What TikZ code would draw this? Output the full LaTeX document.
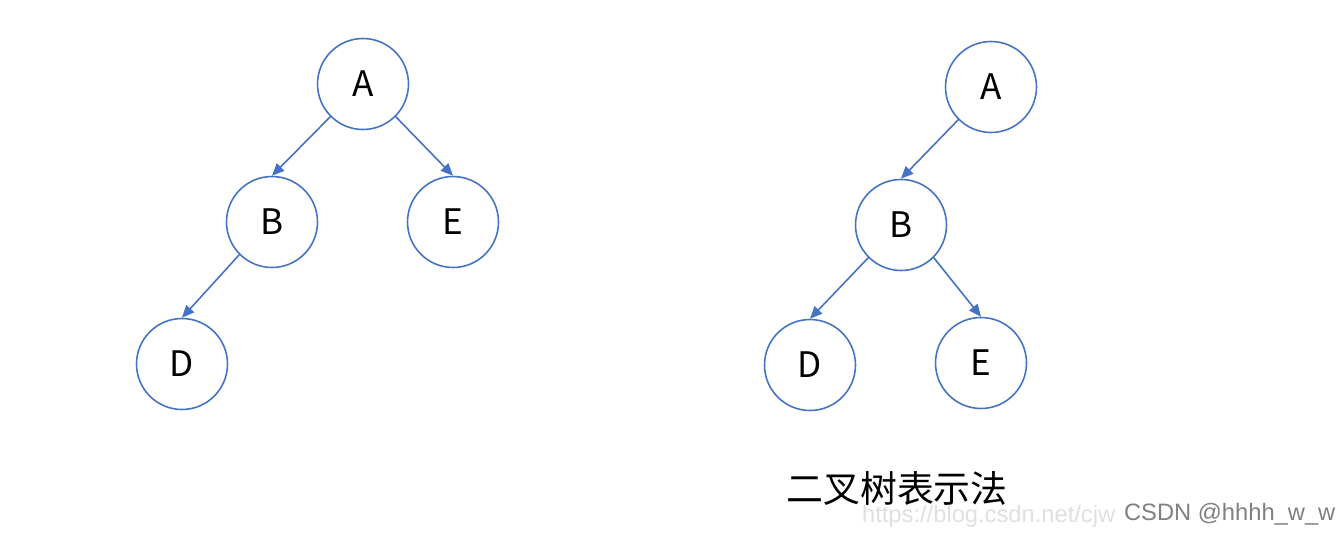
\documentclass[tikz,border=0pt]{standalone}
\usepackage{fontspec}
\setmainfont{Noto Sans CJK SC}
\setsansfont{Liberation Sans}
\usetikzlibrary{arrows.meta}
\definecolor{treeblue}{RGB}{68,114,196}
\tikzset{
  tnode/.style = {circle, draw=treeblue, line width=0.9pt, fill=white,
                  minimum size=1.82cm, inner sep=0pt, font=\fontsize{20}{24}\selectfont},
  arrow/.style = {-{Triangle[length=7pt,width=6pt]}, line width=0.9pt, color=treeblue},
  wmark/.style = {font=\sffamily\fontsize{13.5}{16}\selectfont, anchor=west, inner sep=1pt},
}

\begin{document}
\begin{tikzpicture}[x=0.02cm, y=-0.02cm]

  \fill[white] (0,0) rectangle (1336,534);
  \useasboundingbox (0,0) rectangle (1336,534);

  % left tree
  \foreach \i/\x/\y in {A/363/84, B/272/222, E/453/222, D/182/364} {
    \node[tnode] (\i) at (\x,\y) {\i};
  }
  \draw[arrow] (A.south west) -- (B.north);
  \draw[arrow] (A.south east) -- (E.north);
  \draw[arrow] (B.south west) -- (D.north);

  % right tree, binary form
  \foreach \i/\x/\y in {A/991/87, B/901/225, D/810/365, E/981/363} {
    \node[tnode] (\i r) at (\x,\y) {\i};
  }
  \draw[arrow] (Ar.south west) -- (Br.north);
  \draw[arrow] (Br.south west) -- (Dr.north);
  \draw[arrow] (Br.south east) -- (Er.north);

  \node[font=\fontsize{21}{25}\selectfont, inner sep=1pt] (title) at (897,488) {二叉树表示法};

  % watermark
  \node[wmark, text=black!12] (url) at (860,516) {https://blog.csdn.net/cjw};
  \node[wmark, text=black!50] (csdn) at (1122,514) {CSDN @hhhh\_w\_w};

\end{tikzpicture}
\end{document}
